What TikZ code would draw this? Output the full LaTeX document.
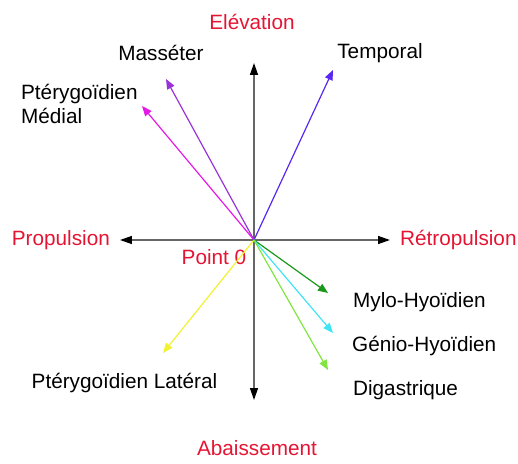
\documentclass[tikz,border=0pt]{standalone}
\usepackage{fontspec}
\setsansfont{Liberation Sans}
\usetikzlibrary{arrows.meta, positioning}
\definecolor{AxeRed}{rgb}{0.9, 0.08, 0.2}
\definecolor{AxeGray}{rgb}{0.4, 0.4, 0.4}
\definecolor{MassPurple}{rgb}{0.6, 0.2, 0.85}
\definecolor{MedMagenta}{rgb}{0.9, 0.1, 0.9}
\definecolor{TempBlue}{rgb}{0.35, 0.15, 0.95}
\definecolor{LatYellow}{rgb}{0.95, 0.95, 0.2}
\definecolor{MyloGreen}{rgb}{0.1, 0.6, 0.1}
\definecolor{GenCyan}{rgb}{0.25, 0.9, 0.95}
\definecolor{DigGreen}{rgb}{0.5, 0.9, 0.25}

\begin{document}
\begin{tikzpicture}[
    font=\sffamily\fontsize{29.5}{33}\selectfont,
    axe/.style={AxeGray, line width=2pt, -{Triangle[length=6mm, width=4mm, color=black]}},
    muscle/.style={line width=1.7pt, -{Triangle[length=5mm, width=4mm]}},
    dirlbl/.style={text=AxeRed, inner sep=0pt},
    muslbl/.style={text=black, inner sep=0pt, align=left},
]
\useasboundingbox (-12.7,-11.15) rectangle (13.2,12);

% origine et axes
\coordinate (o) at (0,0);
\coordinate (up) at (0,8.85);
\coordinate (down) at (0,-8.0);
\coordinate (left) at (-6.7,0);
\coordinate (right) at (6.8,0);
\foreach \t in {up,down,left,right}
    \draw[axe] (o) -- (\t);

\node[dirlbl] (elev) at (-0.1,10.9) {Elévation};
\node[dirlbl] (abai) at (0.15,-10.4) {Abaissement};
\node[dirlbl, anchor=east] (prop) at (-7.2,0) {Propulsion};
\node[dirlbl, anchor=west] (retro) at (7.3,0) {Rétropulsion};
\node[dirlbl] (pt0) at (-2.0,-0.85) {Point 0};

% muscles
\coordinate (mass) at (-4.4,8.05);
\coordinate (med) at (-5.6,6.7);
\coordinate (temp) at (3.95,8.5);
\coordinate (lat) at (-4.55,-5.65);
\coordinate (mylo) at (3.7,-2.65);
\coordinate (genio) at (3.95,-4.65);
\coordinate (dig) at (3.7,-6.5);
\foreach \t/\c in {mass/MassPurple, med/MedMagenta, temp/TempBlue, lat/LatYellow,
                   mylo/MyloGreen, genio/GenCyan, dig/DigGreen}
    \draw[muscle, \c] (o) -- (\t);

\node[muslbl] (massl) at (-4.65,9.35) {Masséter};
\node[muslbl, anchor=west] (medl) at (-11.65,6.8) {Ptérygoïdien\\Médial};
\node[muslbl] (templ) at (6.3,9.35) {Temporal};
\node[muslbl] (latl) at (-6.475,-7.15) {Ptérygoïdien Latéral};
\node[muslbl, anchor=west] (mylol) at (4.95,-3.1) {Mylo-Hyoïdien};
\node[muslbl, anchor=west] (geniol) at (4.9,-5.3) {Génio-Hyoïdien};
\node[muslbl, anchor=west] (digl) at (4.95,-7.5) {Digastrique};

\end{tikzpicture}
\end{document}
